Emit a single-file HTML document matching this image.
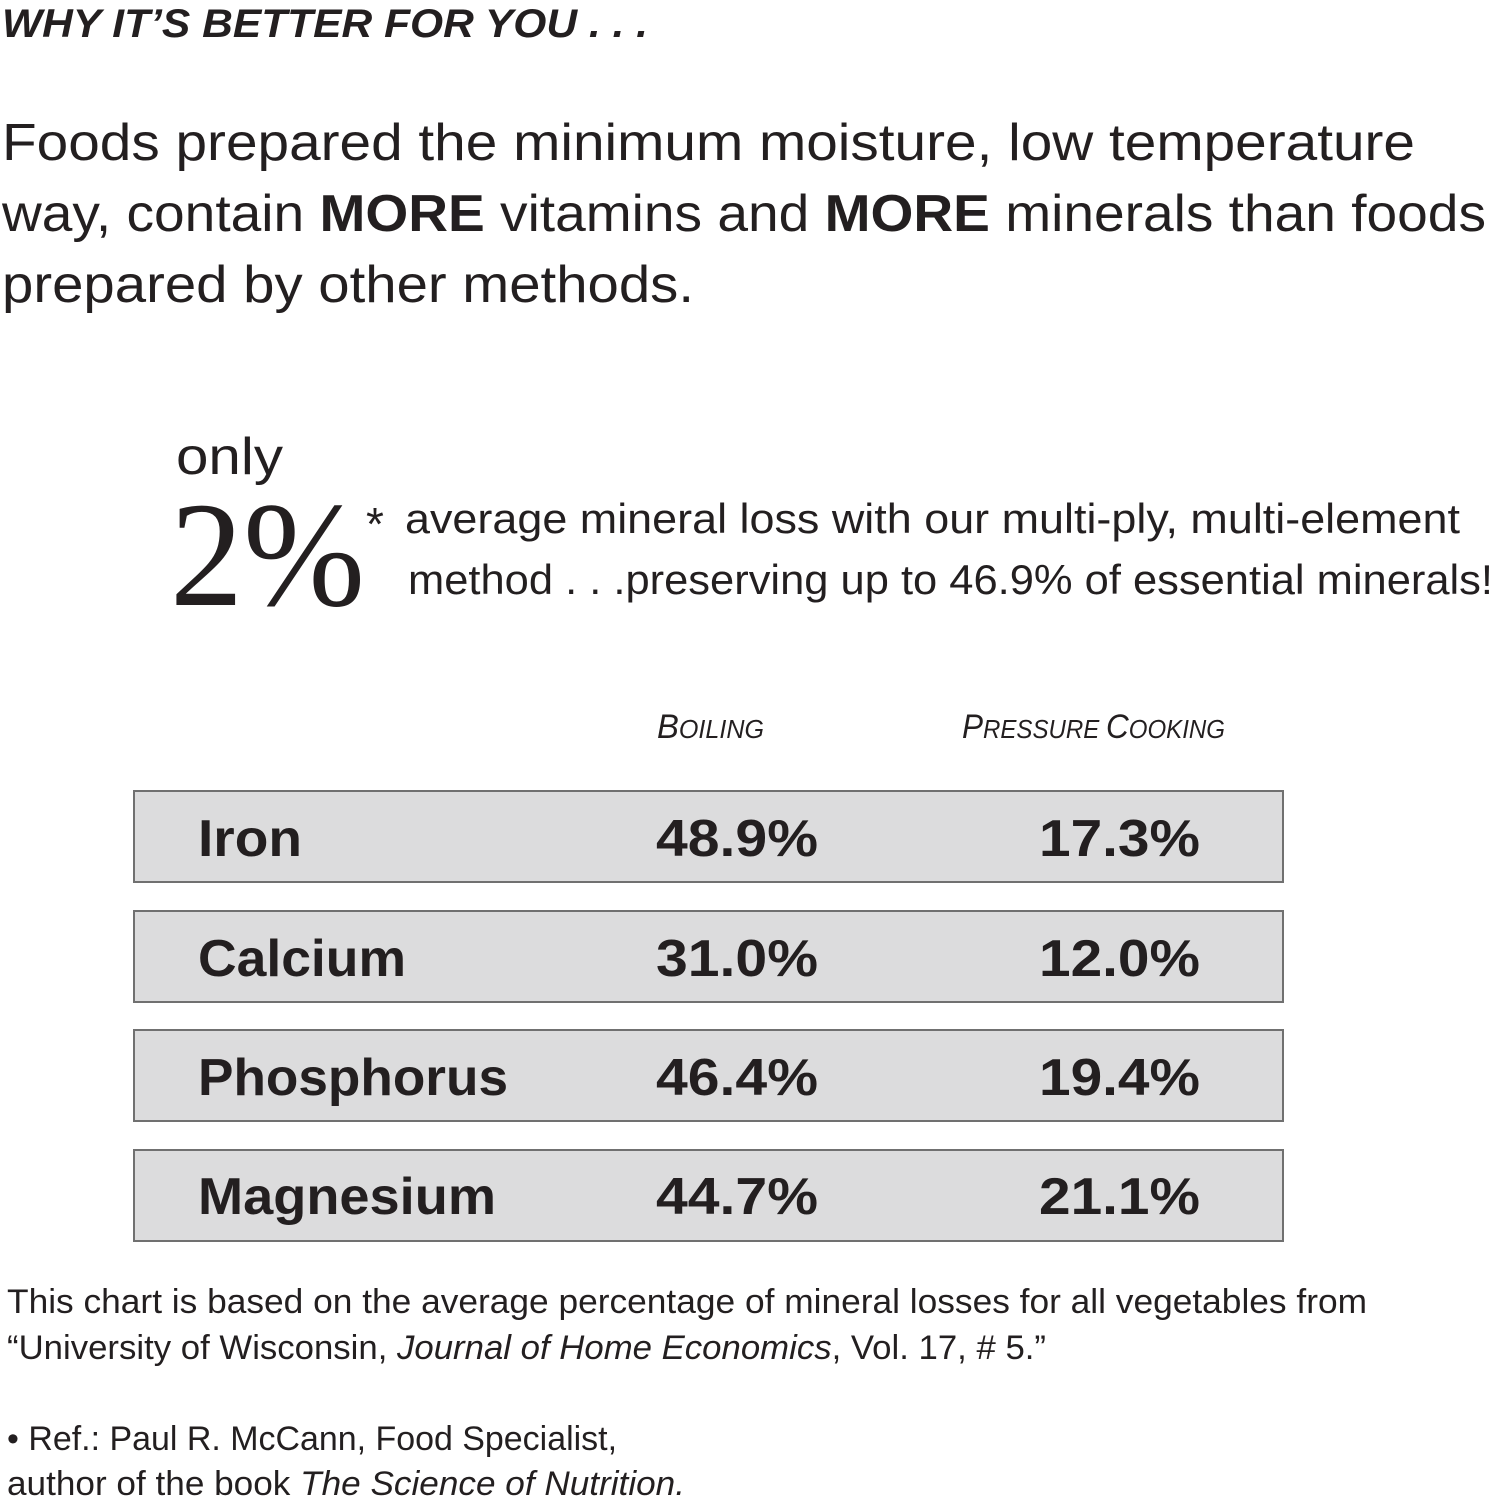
<!DOCTYPE html>
<html><head><meta charset="utf-8"><style>
html,body{margin:0;padding:0;background:#fff;}
svg{display:block;}
text{font-family:"Liberation Sans",sans-serif;fill:#231f20;}
</style></head><body>
<svg width="1495" height="1500" viewBox="0 0 1495 1500" xmlns="http://www.w3.org/2000/svg">
<text x="2" y="37" font-size="40" font-weight="bold" font-style="italic" textLength="646" lengthAdjust="spacingAndGlyphs">WHY IT’S BETTER FOR YOU . . .</text>
<text x="2" y="160" font-size="52" textLength="1413" lengthAdjust="spacingAndGlyphs">Foods prepared the minimum moisture, low temperature</text>
<text x="2" y="231" font-size="52" textLength="1484" lengthAdjust="spacingAndGlyphs">way, contain <tspan font-weight="bold">MORE</tspan> vitamins and <tspan font-weight="bold">MORE</tspan> minerals than foods</text>
<text x="2" y="302" font-size="52" textLength="692" lengthAdjust="spacingAndGlyphs">prepared by other methods.</text>
<text x="176" y="474" font-size="52" textLength="107" lengthAdjust="spacingAndGlyphs">only</text>
<text x="170" y="605" font-size="150" font-family="Liberation Serif,serif" style="font-family:'Liberation Serif',serif" textLength="195" lengthAdjust="spacingAndGlyphs">2%</text>
<text x="366" y="540" font-size="46">*</text>
<text x="405" y="533" font-size="42" textLength="1055" lengthAdjust="spacingAndGlyphs">average mineral loss with our multi-ply, multi-element</text>
<text x="408" y="594" font-size="42" textLength="1085" lengthAdjust="spacingAndGlyphs">method . . .preserving up to 46.9% of essential minerals!</text>
<text x="657" y="738" font-size="34" font-style="italic" textLength="107" lengthAdjust="spacingAndGlyphs">B<tspan font-size="26">OILING</tspan></text>
<text x="962" y="738" font-size="34" font-style="italic" textLength="263" lengthAdjust="spacingAndGlyphs">P<tspan font-size="26">RESSURE </tspan>C<tspan font-size="26">OOKING</tspan></text>
<g stroke="#707070" stroke-width="2" fill="#dcdcdd">
<rect x="134" y="791" width="1149" height="91"/>
<rect x="134" y="911" width="1149" height="91"/>
<rect x="134" y="1030" width="1149" height="91"/>
<rect x="134" y="1150" width="1149" height="91"/>
</g>
<g font-size="52" font-weight="bold">
<text x="198" y="856" textLength="104" lengthAdjust="spacingAndGlyphs">Iron</text>
<text x="656" y="856" textLength="162" lengthAdjust="spacingAndGlyphs">48.9%</text>
<text x="1039" y="856" textLength="161" lengthAdjust="spacingAndGlyphs">17.3%</text>
<text x="198" y="976" textLength="208" lengthAdjust="spacingAndGlyphs">Calcium</text>
<text x="656" y="976" textLength="162" lengthAdjust="spacingAndGlyphs">31.0%</text>
<text x="1039" y="976" textLength="161" lengthAdjust="spacingAndGlyphs">12.0%</text>
<text x="198" y="1095" textLength="310" lengthAdjust="spacingAndGlyphs">Phosphorus</text>
<text x="656" y="1095" textLength="162" lengthAdjust="spacingAndGlyphs">46.4%</text>
<text x="1039" y="1095" textLength="161" lengthAdjust="spacingAndGlyphs">19.4%</text>
<text x="198" y="1214" textLength="298" lengthAdjust="spacingAndGlyphs">Magnesium</text>
<text x="656" y="1214" textLength="162" lengthAdjust="spacingAndGlyphs">44.7%</text>
<text x="1039" y="1214" textLength="161" lengthAdjust="spacingAndGlyphs">21.1%</text>
</g>
<g font-size="34">
<text x="7" y="1313" textLength="1360" lengthAdjust="spacingAndGlyphs">This chart is based on the average percentage of mineral losses for all vegetables from</text>
<text x="7" y="1359" textLength="1039" lengthAdjust="spacingAndGlyphs">“University of Wisconsin, <tspan font-style="italic">Journal of Home Economics</tspan>, Vol. 17, # 5.”</text>
<text x="7" y="1450" textLength="610" lengthAdjust="spacingAndGlyphs">• Ref.: Paul R. McCann, Food Specialist,</text>
<text x="7" y="1495" textLength="678" lengthAdjust="spacingAndGlyphs">author of the book <tspan font-style="italic">The Science of Nutrition.</tspan></text>
</g>
</svg>
</body></html>
